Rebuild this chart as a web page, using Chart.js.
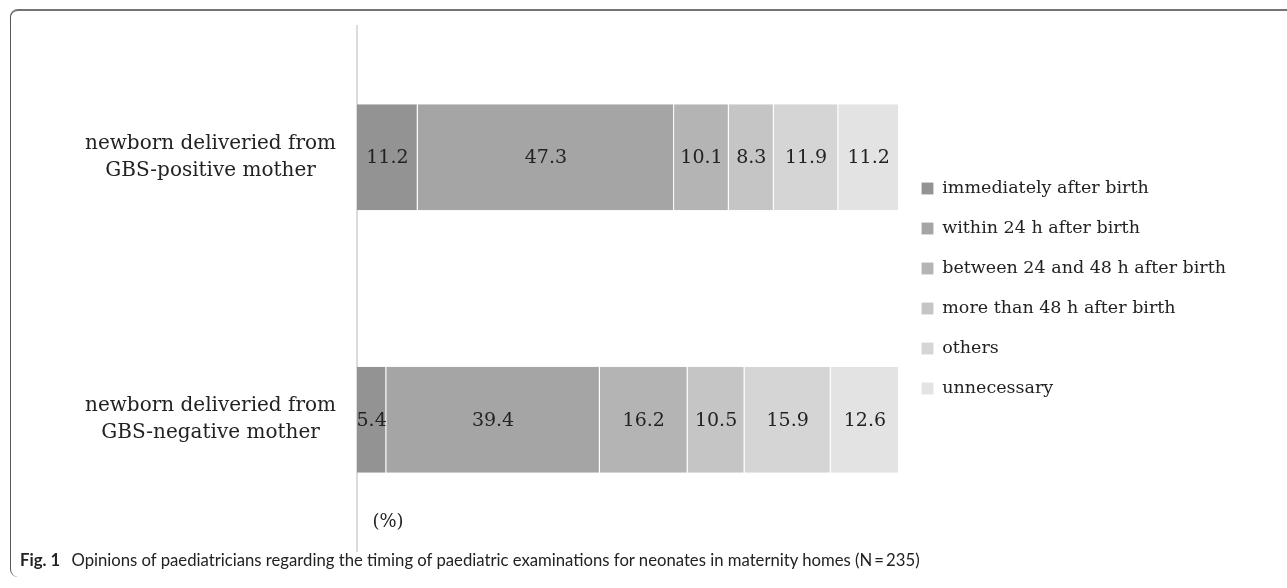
<!DOCTYPE html>
<html>
<head>
<meta charset="utf-8">
<script src="https://cdn.jsdelivr.net/npm/chart.js@4"></script>
<style>
  html, body { margin: 0; padding: 0; background: #fff; }
  body { width: 1287px; height: 588px; position: relative; overflow: hidden; }
  #frame {
    position: absolute; left: 10px; top: 9px; width: 1300px; height: 568px;
    border-top: 2px solid #747474; border-left: 1px solid #555;
    border-top-left-radius: 8px; border-bottom-left-radius: 8px;
    box-sizing: border-box;
  }
  #wrap { position: absolute; left: 0; top: 0; width: 1287px; height: 588px; }
  #caption {
    position: absolute; left: 20px; top: 550px; white-space: nowrap;
    font-family: Lato, "Noto Sans", sans-serif; font-size: 16.7px; color: #222;
  }
  #caption b { font-weight: 700; margin-right: 7px; }
</style>
</head>
<body>
<div id="frame"></div>
<div id="wrap"><canvas id="chart1" width="1287" height="588"></canvas></div>
<div id="caption"><b>Fig. 1</b> Opinions of paediatricians regarding the timing of paediatric examinations for neonates in maternity homes (N&thinsp;=&thinsp;235)</div>
<script>
let categories = [
  ['newborn deliveried from', 'GBS-positive mother'],
  ['newborn deliveried from', 'GBS-negative mother']
];
let seriesNames = [
  'immediately after birth',
  'within 24 h after birth',
  'between 24 and 48 h after birth',
  'more than 48 h after birth',
  'others',
  'unnecessary'
];
let immediately = [11.2, 5.4];
let within24 = [47.3, 39.4];
let between24and48 = [10.1, 16.2];
let moreThan48 = [8.3, 10.5];
let others = [11.9, 15.9];
let unnecessary = [11.2, 12.6];
let unitLabel = '(%)';

let seriesColors = ['#939393', '#a5a5a5', '#b4b4b4', '#c4c5c4', '#d4d5d4', '#e2e3e2'];
let allSeries = [immediately, within24, between24and48, moreThan48, others, unnecessary];

const serif = "'DejaVu Serif', serif";
const legendFont = 17.5;
const legendPad = 22.5;
const legendBox = 12;

// work out right padding so the plot ends near x=899
const mctx = document.createElement('canvas').getContext('2d');
mctx.font = legendFont + 'px ' + serif;
let widest = Math.max(...seriesNames.map(s => mctx.measureText(s).width));
let legendW = legendPad + legendBox + legendFont / 2 + widest + 10;
let rightPad = Math.max(0, 1287 - 899 - legendW);

const valueLabels = {
  id: 'valueLabels',
  afterDatasetsDraw(chart) {
    const ctx = chart.ctx;
    ctx.save();
    ctx.font = '19px ' + serif;
    ctx.fillStyle = '#222';
    ctx.textAlign = 'center';
    ctx.textBaseline = 'middle';
    chart.data.datasets.forEach((ds, i) => {
      chart.getDatasetMeta(i).data.forEach((bar, j) => {
        const x = (bar.x + bar.base) / 2;
        ctx.fillText(ds.data[j].toFixed(1), x, bar.y + 1);
      });
    });
    const area = chart.chartArea;
    ctx.font = '18px ' + serif;
    ctx.fillText(unitLabel, area.left + 31, area.bottom - 29);
    ctx.restore();
  }
};

document.addEventListener('DOMContentLoaded', function () {
  const ctx = document.getElementById('chart1').getContext('2d');
  new Chart(ctx, {
    type: 'bar',
    data: {
      labels: categories,
      datasets: allSeries.map((vals, i) => ({
        label: seriesNames[i],
        data: vals,
        backgroundColor: seriesColors[i],
        borderColor: 'rgba(255,255,255,0.55)',
        borderWidth: { left: 0, right: 1, top: 0, bottom: 0 },
        borderSkipped: false,
        barPercentage: 0.404,
        categoryPercentage: 1
      }))
    },
    options: {
      indexAxis: 'y',
      responsive: false,
      animation: false,
      layout: { padding: { top: 26, bottom: 37, left: 0, right: rightPad } },
      plugins: {
        tooltip: { enabled: false },
        legend: {
          position: 'right',
          align: 'center',
          maxWidth: 420,
          labels: {
            boxWidth: legendBox,
            boxHeight: legendBox,
            padding: legendPad,
            color: '#222',
            font: { family: serif, size: legendFont }
          }
        }
      },
      scales: {
        x: {
          stacked: true,
          display: false,
          min: 0,
          max: 100
        },
        y: {
          stacked: true,
          grid: { display: false, drawTicks: false },
          border: { display: true, color: '#dcdcdc', width: 2 },
          ticks: {
            crossAlign: 'center',
            padding: 21,
            color: '#222',
            font: { family: serif, size: 20, lineHeight: 1.35 }
          },
          afterFit: function (scale) {
            scale.width = 357;
            scale.paddingTop = 0;
            scale.paddingBottom = 0;
          }
        }
      }
    },
    plugins: [valueLabels]
  });
});
</script>
</body>
</html>
